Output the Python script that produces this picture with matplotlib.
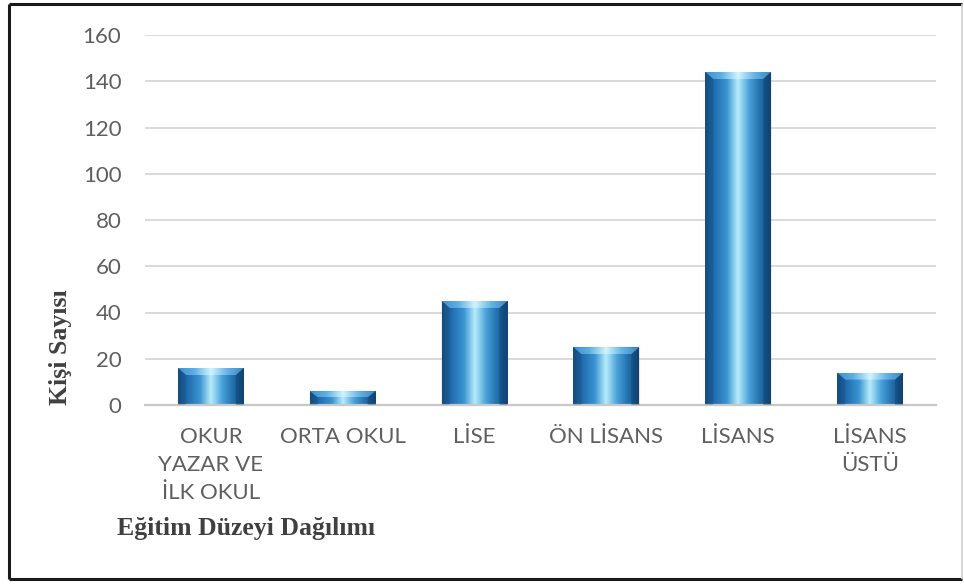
import numpy as np
import matplotlib
matplotlib.use("Agg")
import matplotlib.pyplot as plt
from matplotlib.colors import LinearSegmentedColormap
from matplotlib.patches import Polygon
from matplotlib.lines import Line2D

categories = ["OKUR\nYAZAR VE\nİLK OKUL", "ORTA OKUL", "LİSE", "ÖN LİSANS", "LİSANS", "LİSANS\nÜSTÜ"]
values = [16, 6, 45, 25, 144, 14]
yticks = [0, 20, 40, 60, 80, 100, 120, 140, 160]
ylabel = "Kişi Sayısı"
xlabel = "Eğitim Düzeyi Dağılımı"

W, H = 964, 584
fig = plt.figure(figsize=(W / 100, H / 100), dpi=100)
fig.patch.set_facecolor("white")
ax = fig.add_axes([145 / W, 1 - 405 / H, (936 - 145) / W, (405 - 35) / H])

x = np.arange(len(categories))
bars = ax.bar(x, values, width=0.5, color="#2a78b8", zorder=2)
ax.set_xlim(-0.5, len(categories) - 0.5)
ax.set_ylim(0, 160)
ax.set_yticks(yticks)
ax.set_xticks(x)

tick_font = dict(family="Lato", weight="normal", size=16, color="#5f5f5f")
ax.set_yticklabels([str(t) for t in yticks], **tick_font)
ax.set_xticklabels(categories, linespacing=1.5, va="top", **tick_font)
ax.tick_params(axis="both", length=0)
ax.tick_params(axis="y", pad=17)
ax.tick_params(axis="x", pad=16)

for s in ["top", "right", "left"]:
    ax.spines[s].set_visible(False)
ax.spines["bottom"].set_color("#c8c8c8")
ax.spines["bottom"].set_linewidth(1.6)
ax.yaxis.grid(True, color="#d9d9d9", linewidth=1.4, zorder=0)
ax.set_axisbelow(True)

# gradient fill for bars
body_cmap = LinearSegmentedColormap.from_list(
    "body", ["#174f86", "#2472b4", "#3b95d2", "#b8ecfb", "#4aa3da", "#2270ae", "#154a7c"])
top_cmap = LinearSegmentedColormap.from_list(
    "top", ["#3f8fcc", "#5fb0e4", "#d2f4ff", "#64b3e4", "#3a86c0"])
grad = np.linspace(0, 1, 256).reshape(1, -1)

# pixel-to-data scales for the bevel size
bbox = ax.get_window_extent()
px_x = (len(categories)) / bbox.width
px_y = 160 / bbox.height
bev_x = 8 * px_x
bev_y = 7 * px_y

for b in bars:
    x0, w, h = b.get_x(), b.get_width(), b.get_height()
    b.set_facecolor("none")
    im = ax.imshow(grad, cmap=body_cmap, aspect="auto", extent=[x0, x0 + w, 0, h], zorder=2,
                   interpolation="bicubic")
    im.set_clip_path(b)
    bv = min(bev_y, h * 0.45)
    poly = Polygon([[x0, h], [x0 + w, h], [x0 + w - bev_x, h - bv], [x0 + bev_x, h - bv]],
                   closed=True, facecolor="none", edgecolor="none", zorder=3)
    ax.add_patch(poly)
    im2 = ax.imshow(grad, cmap=top_cmap, aspect="auto", extent=[x0, x0 + w, h - bv, h], zorder=3,
                    interpolation="bicubic")
    im2.set_clip_path(poly)
    left = Polygon([[x0, 0], [x0, h], [x0 + bev_x, h - bv], [x0 + bev_x, 0]], closed=True,
                   facecolor="#0f3f6e", alpha=0.22, edgecolor="none", zorder=3)
    right = Polygon([[x0 + w, 0], [x0 + w, h], [x0 + w - bev_x, h - bv], [x0 + w - bev_x, 0]], closed=True,
                    facecolor="#0a3058", alpha=0.32, edgecolor="none", zorder=3)
    ax.add_patch(left)
    ax.add_patch(right)

ax.set_xlim(-0.5, len(categories) - 0.5)
ax.set_ylim(0, 160)

fig.text(61 / W, 1 - 347 / H, ylabel, rotation=90, ha="center", va="center",
         family="Liberation Serif", weight="bold", size=18.5, color="#404040")
fig.text(117 / W, 1 - 529 / H, xlabel, ha="left", va="center",
         family="Liberation Serif", weight="bold", size=18.5, color="#404040")

# outer frame
def fl(x1, y1, x2, y2, c, lw):
    fig.add_artist(Line2D([x1 / W, x2 / W], [1 - y1 / H, 1 - y2 / H], color=c, linewidth=lw,
                          transform=fig.transFigure, solid_capstyle="butt"))

fl(9, 4, 962, 4, "#1a1a1a", 2.2)
fl(9, 579, 962, 579, "#1a1a1a", 2.2)
fl(9, 4, 9, 579, "#1a1a1a", 2.2)
fl(962, 4, 962, 579, "#cfcfcf", 1.2)

fig.savefig("out.png", dpi=100, facecolor="white")
